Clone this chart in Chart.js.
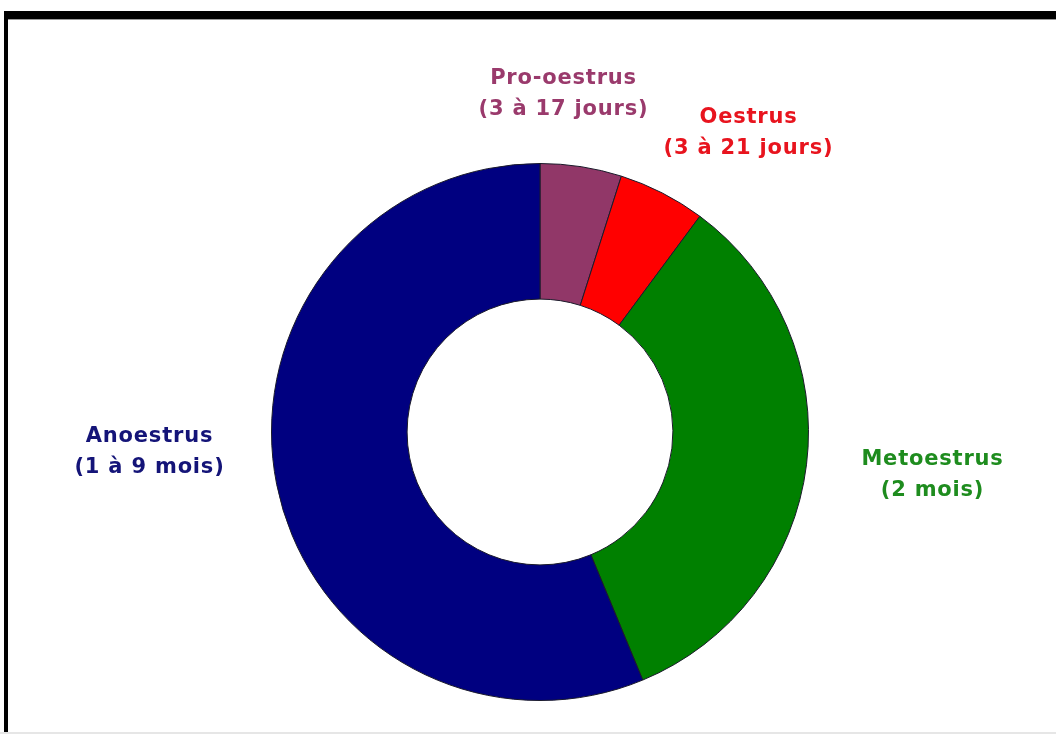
<!DOCTYPE html>
<html>
<head>
<meta charset="utf-8">
<script src="https://cdn.jsdelivr.net/npm/chart.js@4"></script>
<style>
html, body { margin: 0; padding: 0; background: #fff; }
#wrap { position: relative; width: 1056px; height: 734px; overflow: hidden; background: #fff; }
#frame { position: absolute; left: 4px; top: 11px; width: 1100px; height: 721px;
         border-top: 8px solid #000; border-left: 4px solid #000; box-sizing: border-box; }
#frame:after { content: ""; position: absolute; left: 0; right: 0; top: 0; height: 1px; background: #999; }
#bottomline { position: absolute; left: 0; top: 732px; width: 1056px; height: 2px; background: #e6e6e6; }
#c { position: absolute; left: 0; top: 0; }
</style>
</head>
<body>
<div id="wrap">
  <div id="frame"></div>
  <div id="bottomline"></div>
  <canvas id="c" width="1056" height="734"></canvas>
</div>
<script>
// phases du cycle, dans l'ordre des aiguilles d'une montre depuis le haut
var phases = ["Pro-oestrus", "Oestrus", "Metoestrus", "Anoestrus"];
var durees = ["(3 à 17 jours)", "(3 à 21 jours)", "(2 mois)", "(1 à 9 mois)"];
var parts = [4.9, 5.25, 33.6, 56.25];

var fillColors = ["#913768", "#ff0000", "#008000", "#000080"];
var textColors = ["#9a3a6c", "#e8141e", "#1e8c1e", "#141478"];
// position du centre de chaque étiquette (x, y de la 1re ligne)
var labelX = [563, 748, 932, 149];
var labelY = [79, 118, 460, 437];

var labelPlugin = {
    id: 'phaseLabels',
    afterDraw: function(chart) {
        var ctx = chart.ctx;
        ctx.save();
        ctx.font = "bold 21px 'DejaVu Sans', Verdana, sans-serif";
        ctx.letterSpacing = "0.8px";
        ctx.textAlign = "center";
        ctx.textBaseline = "middle";
        for (var i = 0; i < phases.length; i++) {
            ctx.fillStyle = textColors[i];
            ctx.fillText(phases[i], labelX[i] + 0.5, labelY[i]);
            ctx.fillText(durees[i], labelX[i] + 0.5, labelY[i] + 31);
        }
        ctx.restore();
    }
};

var ctx = document.getElementById("c").getContext("2d");
var myChart = new Chart(ctx, {
    type: 'doughnut',
    data: {
        labels: phases,
        datasets: [{
            data: parts,
            backgroundColor: fillColors,
            borderColor: "#1a1a2a",
            borderWidth: 1,
            hoverOffset: 0,
            offset: 0
        }]
    },
    options: {
        responsive: false,
        animation: false,
        cutout: '49.5%',
        layout: { padding: { left: 271, right: 247, top: 163, bottom: 33 } },
        plugins: {
            legend: { display: false },
            tooltip: { enabled: false }
        }
    },
    plugins: [labelPlugin]
});
</script>
</body>
</html>
